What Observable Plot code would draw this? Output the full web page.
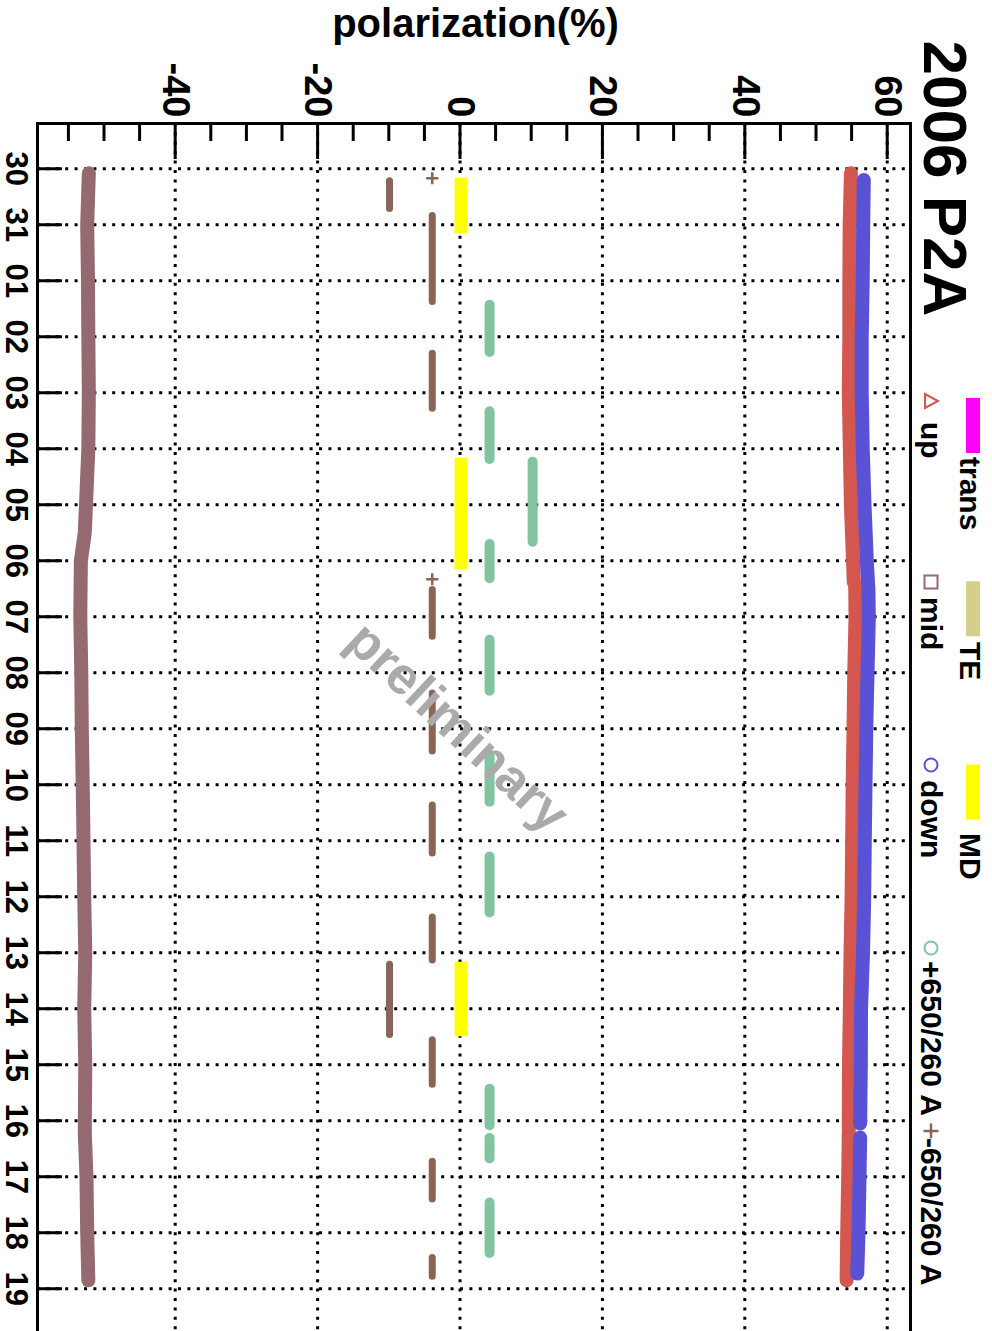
<!DOCTYPE html>
<html><head><meta charset="utf-8">
<script src="https://cdn.jsdelivr.net/npm/d3@7"></script>
<script src="https://cdn.jsdelivr.net/npm/@observablehq/plot@0.6"></script>
<style>body{margin:0;background:#fff} #chart svg{display:block}</style>
</head><body><div id="chart"></div>
<script>
// ---------- data ----------
const dayLabels = ["30","31","01","02","03","04","05","06","07","08","09","10","11","12","13","14","15","16","17","18","19"];
const dayIndex = dayLabels.map((_, i) => i);
const polMajor = [-40, -20, 0, 20, 40, 60];
const polMinor = [-55,-50,-45,-35,-30,-25,-15,-10,-5,5,10,15,25,30,35,45,50,55];

// [day, polarization] per continuous run
const upSegments = [
  [[0.08,54.9],[1,54.73],[2,54.68],[3,54.68],[4,54.6],[5,54.75],[6,54.9],[7,55.2],[7.38,55.3]],
  [[7.43,55.5],[8,55.55],[9,55.37],[10,55.27],[11,55.15],[12,55.08],[13,55.0],[14,54.85],[15,54.75],[16,54.63],[17.15,54.6]],
  [[17.21,54.6],[18,54.52],[19,54.38],[19.85,54.3]]
];
const downSegments = [
  [[0.2,56.71],[1,56.63],[2,56.56],[3,56.42],[4,56.42],[5,56.56],[6,56.81],[7,57.13],[7.38,57.3]],
  [[7.45,57.35],[8,57.42],[9,57.23],[10,57.06],[11,56.95],[12,56.85],[13,56.77],[14,56.6],[15,56.32],[16,56.29],[17.05,56.2]],
  [[17.3,56.2],[18,56.11],[19,55.97],[19.73,55.79]]
];
const midSegments = [
  [[0.08,-52.13],[1,-52.36],[2,-52.25],[3,-52.2],[4,-52.13],[5,-52.2],[6,-52.53],[6.5,-52.7],[7,-53.25],[8,-53.33],[9,-53.19],[10,-53.12],[11,-52.99],[12,-52.88],[13,-52.78],[14,-52.63],[15,-52.78],[16,-52.63],[17.17,-52.7]],
  [[17.21,-52.7],[18,-52.46],[19,-52.36],[19.85,-52.2]]
];
// [polarization, fromDay, toDay]
const minusRuns = [[-9.9,0.16,0.78],[-3.9,0.78,2.44],[-3.9,3.24,4.35],[-3.9,7.46,8.42],[-3.9,9.31,10.47],[-3.9,11.31,12.29],[-3.9,13.31,14.2],[-9.9,14.15,15.53],[-3.9,15.5,16.42],[-3.9,17.67,18.47],[-3.9,19.39,19.85]];
const minusSingles = [[-3.9,0.17],[-3.9,7.33]];
const plusRuns = [[4.15,2.35,3.37],[4.15,4.25,5.28],[10.2,5.15,6.76],[4.15,6.62,7.41],[4.15,8.33,9.42],[4.15,10.38,11.4],[4.15,12.2,13.38],[4.15,16.35,17.18],[4.15,17.23,17.77],[4.15,18.38,19.46]];
const mdRuns = [[0.15,0.17,1.16],[0.15,5.17,7.16],[0.15,14.17,15.5]];

const boxLegend = [
  {label: "trans", color: "#ff00ff"},
  {label: "TE", color: "#d4cf8a"},
  {label: "MD", color: "#ffff00"}
];
const markerLegend = [
  {label: "up", symbol: "triangle", color: "#d4574f"},
  {label: "mid", symbol: "square", color: "#94696f"},
  {label: "down", symbol: "circle", color: "#5a52d6"},
  {label: "+650/260 A", symbol: "circle", color: "#82c4a2"},
  {label: "-650/260 A", symbol: "plus", color: "#8a6555"}
];

// ---------- helpers ----------
const rows = segs => segs.flatMap((s, k) => s.map(([day, pol]) => ({seg: k, day, pol})));
const runs = arr => arr.map(([pol, from, to]) => ({pol, from, to}));

const FONT = "'Liberation Sans', Arial, Helvetica, sans-serif";
const W = 992, H = 1331, ML = 37, MR = 82, MT = 123, MB = 0;
const PW = W - ML - MR, PH = H - MT - MB;
const dots = {stroke: "#000", strokeWidth: 3, strokeDasharray: "3 6.4"};

const svg = Plot.plot({
  width: W, height: H,
  marginLeft: ML, marginRight: MR, marginTop: MT, marginBottom: MB,
  x: {domain: [-59.34, 63.27], axis: null},
  y: {domain: [-0.808, 20.764], reverse: true, axis: null},
  style: {fontFamily: FONT, background: "#fff", overflow: "visible"},
  marks: [
    // dotted grid
    Plot.ruleY(dayIndex, {y: d => d, ...dots}),
    Plot.ruleX(polMajor, {x: d => d, ...dots}),
    // data
    Plot.ruleX(runs(mdRuns), {x: "pol", y1: "from", y2: "to", stroke: "#ffff00", strokeWidth: 13}),
    Plot.ruleX(runs(plusRuns), {x: "pol", y1: "from", y2: "to", stroke: "#82c4a2", strokeWidth: 10, strokeLinecap: "round", insetTop: 5, insetBottom: 5}),
    Plot.ruleX(runs(minusRuns), {x: "pol", y1: "from", y2: "to", stroke: "#8a6555", strokeWidth: 7, strokeLinecap: "round", insetTop: 3.5, insetBottom: 3.5}),
    Plot.dot(minusSingles, {x: d => d[0], y: d => d[1], symbol: "plus", r: 4, stroke: "#8a6555", strokeWidth: 2.5}),
    Plot.line(rows(midSegments), {x: "pol", y: "day", z: "seg", stroke: "#94696f", strokeWidth: 14, strokeLinejoin: "round"}),
    Plot.line(rows(upSegments), {x: "pol", y: "day", z: "seg", stroke: "#d4574f", strokeWidth: 14, strokeLinejoin: "round"}),
    Plot.line(rows(downSegments), {x: "pol", y: "day", z: "seg", stroke: "#5a52d6", strokeWidth: 14, strokeLinejoin: "round", strokeLinecap: "round"}),
    // ticks
    Plot.ruleX(polMajor, {x: d => d, insetBottom: PH - 36, stroke: "#000", strokeWidth: 3}),
    Plot.ruleX(polMinor, {x: d => d, insetBottom: PH - 18, stroke: "#000", strokeWidth: 3}),
    Plot.ruleY(dayIndex, {y: d => d, insetRight: PW - 25, stroke: "#000", strokeWidth: 3}),
    // frame (top, left, right)
    Plot.frame({anchor: "top", stroke: "#000", strokeWidth: 3}),
    Plot.frame({anchor: "left", stroke: "#000", strokeWidth: 3}),
    Plot.frame({anchor: "right", stroke: "#000", strokeWidth: 3}),
    // tick labels
    Plot.text(dayIndex, {y: d => d, text: i => dayLabels[i], frameAnchor: "left", dx: 15.5 - ML, rotate: 90, textAnchor: "middle", lineAnchor: "middle", fontSize: 31, fontWeight: "bold", fill: "#000"}),
    Plot.text(polMajor, {x: d => d, text: d => String(d), frameAnchor: "top", dy: -6, rotate: 90, textAnchor: "end", lineAnchor: "middle", fontSize: 38, fontWeight: "bold", fill: "#000"}),
    // titles
    Plot.text(["polarization(%)"], {text: d => d, frameAnchor: "top", dx: 475 - (ML + PW / 2), dy: 24 - MT, textAnchor: "middle", lineAnchor: "middle", fontSize: 40, fontWeight: "bold", fill: "#000"}),
    Plot.text(["2006 P2A"], {text: d => d, frameAnchor: "top-right", dx: 943 - (W - MR), dy: 40 - MT, rotate: 90, textAnchor: "start", lineAnchor: "middle", fontSize: 62, fontWeight: "bold", fill: "#000"}),
    // watermark
    Plot.text(["preliminary"], {text: d => d, frameAnchor: "middle", dx: 457 - (ML + PW / 2), dy: 0, rotate: 43, textAnchor: "middle", lineAnchor: "middle", fontSize: 52, fontWeight: "bold", fill: "#aaaaaa"})
  ]
});

// ---------- legend (rotated, right of frame) ----------
const lg = d3.select(svg).append("g")
  .attr("font-family", FONT).attr("font-weight", "bold").attr("font-size", 30)
  .attr("fill", "#000").attr("text-anchor", "start");
const step = 183.3, y0 = 398;
const boxTextStart = [457, 642, 833];
boxLegend.forEach((e, i) => {
  const y = y0 + step * i;
  lg.append("rect").attr("x", 966).attr("y", y).attr("width", 14).attr("height", 55).attr("fill", e.color);
  lg.append("text").attr("text-anchor", "start").attr("transform", `translate(969.6,${boxTextStart[i]}) rotate(90)`).attr("dy", "0.32em").text(e.label);
});
const markTextStart = [422, 597, 780, 961, 1138];
const markCenter = [401, 582, 765, 948, 1131];
markerLegend.forEach((e, i) => {
  const cy = markCenter[i], cx = 931;
  if (e.symbol === "triangle") {
    lg.append("path").attr("d", `M${cx-6},${cy-7}L${cx+7},${cy}L${cx-6},${cy+7}Z`).attr("fill", "none").attr("stroke", e.color).attr("stroke-width", 2);
  } else if (e.symbol === "square") {
    lg.append("rect").attr("x", cx - 6.5).attr("y", cy - 6.5).attr("width", 13).attr("height", 13).attr("fill", "none").attr("stroke", e.color).attr("stroke-width", 2);
  } else if (e.symbol === "circle") {
    lg.append("circle").attr("cx", cx).attr("cy", cy).attr("r", 6.5).attr("fill", "none").attr("stroke", e.color).attr("stroke-width", 2);
  } else {
    lg.append("path").attr("d", `M${cx-7.5},${cy}H${cx+7.5}M${cx},${cy-7.5}V${cy+7.5}`).attr("stroke", e.color).attr("stroke-width", 2.5);
  }
  lg.append("text").attr("text-anchor", "start").attr("transform", `translate(930.6,${markTextStart[i]}) rotate(90)`).attr("dy", "0.32em").text(e.label);
});

document.getElementById("chart").appendChild(svg);
</script>
</body></html>
